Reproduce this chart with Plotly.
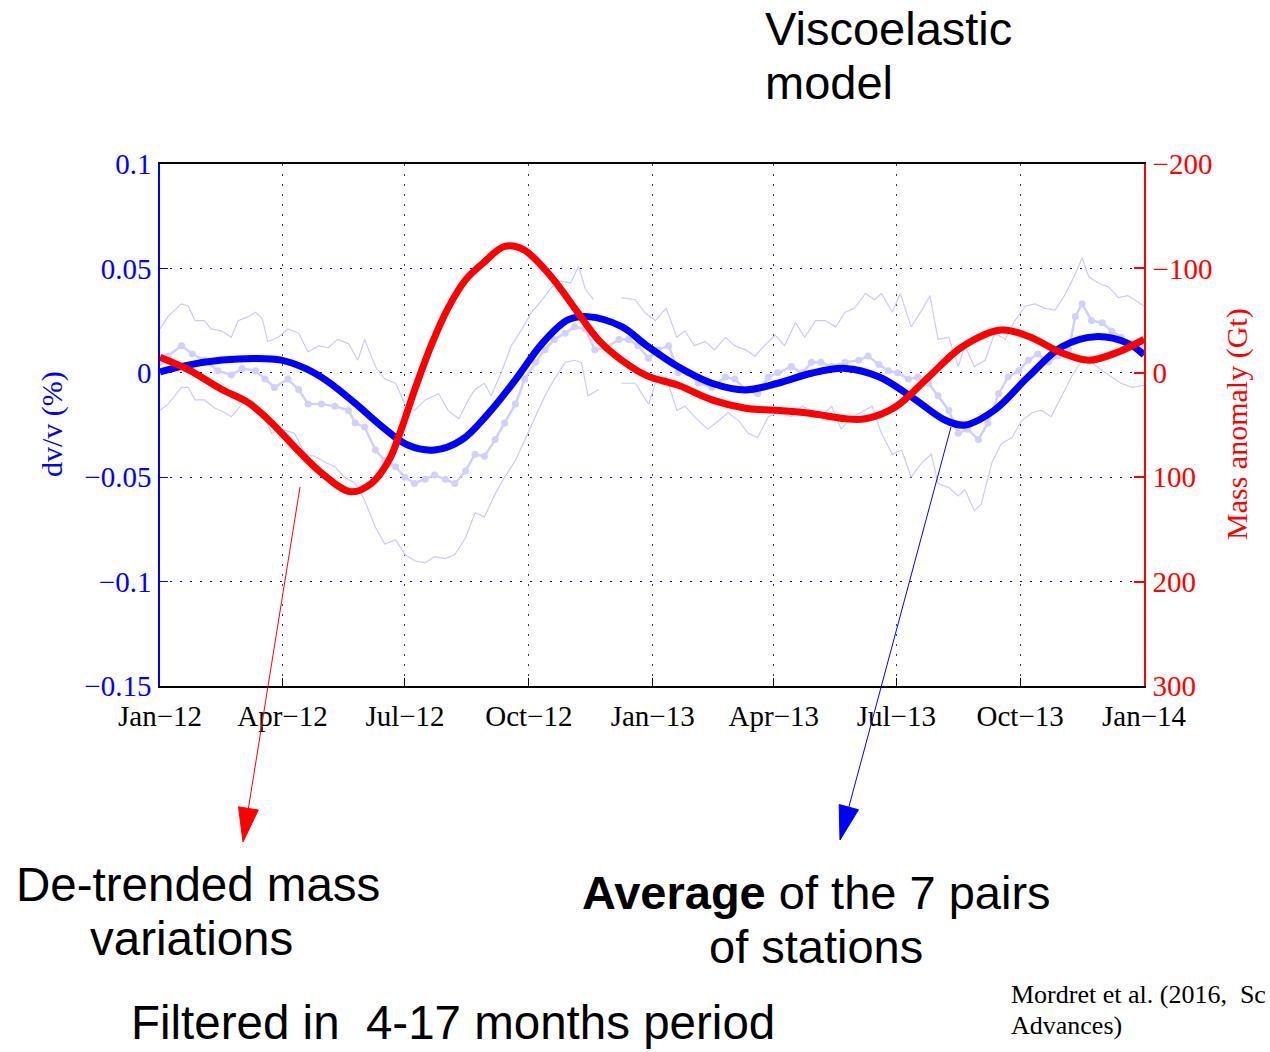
import numpy as np
import pandas as pd
import plotly.graph_objects as go

START = pd.Timestamp("2012-01-01")

# ---- x-axis ticks (quarter starts) ----
tick_dates = ["2012-01-01", "2012-04-01", "2012-07-01", "2012-10-01", "2013-01-01",
              "2013-04-01", "2013-07-01", "2013-10-01", "2014-01-01"]
tick_labels = ["Jan\u221212", "Apr\u221212", "Jul\u221212", "Oct\u221212", "Jan\u221213",
               "Apr\u221213", "Jul\u221213", "Oct\u221213", "Jan\u221214"]

dvv_ticks = [-0.15, -0.1, -0.05, 0, 0.05, 0.1]
dvv_tick_labels = ["\u22120.15", "\u22120.1", "\u22120.05", "0", "0.05", "0.1"]
mass_ticks = [-200, -100, 0, 100, 200, 300]
mass_tick_labels = ["\u2212200", "\u2212100", "0", "100", "200", "300"]

# ---- dv/v: upper bound of the 7 pairs (days since 2012-01-01, %) ----
upper_days = [0, 6, 16, 21, 26, 33, 38, 46, 53, 58, 66, 71, 76, 80, 88, 95, 103, 110, 118, 125,
              132, 140, 147, 152, 160, 167, 175, 182, 189, 197, 207, 214, 222, 229, 234, 241, 246,
              254, 261, 269, 276, 284, 291, 298, 305, 311, 316, 322, 333, 343, 353, 360, 368, 376,
              384, 390, 397, 405, 412, 420, 427, 435, 442, 449, 457, 464, 472, 479, 487, 494, 502,
              509, 516, 524, 531, 536, 544, 550, 558, 566, 572, 578, 586, 593, 598, 605, 613, 620,
              628, 635, 643, 650, 657, 665, 672, 679, 685, 690, 697, 705, 712, 719, 729, 731]
upper_vals = [0.021, 0.027, 0.033, 0.032, 0.025, 0.025, 0.021, 0.020, 0.017, 0.025, 0.027, 0.029,
              0.026, 0.015, 0.017, 0.021, 0.019, 0.010, 0.013, 0.012, 0.016, 0.014, 0.006, 0.016,
              0.003, -0.003, -0.005, -0.015, -0.018, -0.013, -0.010, -0.018, -0.022, -0.013, -0.008,
              -0.005, -0.011, 0.001, 0.013, 0.021, 0.029, 0.035, 0.041, 0.044, 0.043, 0.051, 0.040,
              0.035, None, 0.036, 0.035, 0.029, 0.025, 0.031, 0.017, 0.020, 0.013, 0.015, 0.011,
              0.017, 0.013, 0.011, 0.008, 0.013, 0.018, 0.013, 0.024, 0.017, 0.025, 0.025, 0.022,
              0.029, 0.031, 0.038, 0.035, 0.038, 0.029, 0.038, 0.022, 0.030, 0.037, 0.016, 0.017,
              0.003, 0.013, 0.003, 0.006, 0.019, 0.016, 0.025, 0.032, 0.033, 0.031, 0.030, 0.037,
              0.046, 0.055, 0.046, 0.043, 0.041, 0.036, 0.037, 0.033, 0.032]

# ---- dv/v: lower bound of the 7 pairs ----
lower_days = [0, 6, 16, 21, 26, 33, 41, 48, 53, 61, 68, 76, 83, 90, 100, 108, 115, 123, 130, 137,
              145, 152, 160, 167, 175, 182, 189, 197, 204, 212, 219, 227, 234, 241, 249, 256, 264,
              271, 279, 286, 293, 301, 308, 313, 318, 326, 333, 343, 353, 363, 368, 376, 384, 390,
              397, 407, 415, 422, 430, 437, 444, 452, 459, 469, 477, 484, 491, 499, 506, 514, 521,
              529, 536, 544, 551, 558, 566, 573, 578, 586, 593, 598, 605, 610, 618, 625, 633, 640,
              648, 655, 662, 670, 677, 685, 692, 700, 707, 714, 722, 729, 731]
lower_vals = [-0.018, -0.015, -0.007, -0.007, -0.013, -0.013, -0.017, -0.019, -0.021, -0.015,
              -0.013, -0.019, -0.029, -0.027, -0.029, -0.039, -0.040, -0.043, -0.045, -0.050,
              -0.053, -0.061, -0.074, -0.082, -0.080, -0.087, -0.090, -0.091, -0.088, -0.089,
              -0.087, -0.079, -0.067, -0.069, -0.058, -0.050, -0.042, -0.032, -0.021, -0.011,
              -0.003, 0.005, 0.006, 0.005, -0.011, -0.008, None, -0.005, -0.005, -0.015,
              -0.005, -0.002, -0.018, -0.016, -0.021, -0.027, -0.023, -0.019, -0.023, -0.029,
              -0.031, -0.021, -0.019, -0.021, -0.016, -0.018, -0.021, -0.016, -0.027, -0.021,
              -0.019, -0.016, -0.029, -0.039, -0.037, -0.050, -0.043, -0.039, -0.053, -0.055,
              -0.059, -0.056, -0.066, -0.063, -0.043, -0.034, -0.031, -0.023, -0.019, -0.018,
              -0.021, -0.011, -0.002, 0.006, 0.005, 0.001, -0.002, -0.005, -0.007, -0.006, -0.006]

# ---- dv/v: raw average of the 7 pairs ----
raw_days = [0, 6, 16, 24, 33, 43, 53, 61, 71, 78, 85, 95, 103, 110, 120, 130, 140, 145, 152, 160,
            167, 175, 182, 189, 197, 204, 212, 219, 227, 234, 241, 249, 256, 264, 271, 279, 286,
            293, 301, 308, 316, 323, 331, 341, 348, 355, 363, 370, 378, 385, 392, 400, 410, 420,
            427, 435, 444, 452, 459, 469, 477, 484, 491, 499, 509, 519, 526, 534, 541, 548, 556,
            563, 571, 578, 586, 593, 600, 608, 615, 623, 630, 638, 645, 652, 660, 667, 675, 680,
            685, 692, 700, 707, 714, 722, 729]
raw_vals = [0.005, 0.008, 0.013, 0.009, 0.006, 0.001, -0.001, 0.002, 0.001, -0.003,
            -0.007, -0.003, -0.008, -0.015, -0.015, -0.016, -0.018, -0.024, -0.026, -0.037,
            -0.042, -0.045, -0.050, -0.053, -0.051, -0.049, -0.051, -0.053, -0.047, -0.039,
            -0.040, -0.032, -0.024, -0.015, -0.003, 0.005, 0.011, 0.016, 0.019, 0.022,
            0.021, 0.011, 0.012, 0.016, 0.016, 0.013, 0.007, 0.011, 0.013, 0.000,
            0.000, -0.005, -0.007, -0.002, -0.003, -0.008, -0.010, -0.002, 0.000, 0.003,
            0.000, 0.005, 0.005, 0.003, 0.005, 0.006, 0.008, 0.004, 0.001, 0.000,
            -0.003, -0.002, -0.005, -0.011, -0.018, -0.029, -0.027, -0.032, -0.024, -0.010,
            -0.002, 0.001, 0.006, 0.009, 0.005, 0.008, 0.011, 0.027, 0.033, 0.025,
            0.024, 0.020, 0.017, 0.014, 0.011]

# ---- dv/v filtered in the 4-17 month band ----
dvv_days = [0, 21, 46, 71, 90, 108, 125, 145, 165, 184, 204, 224, 244, 264, 284, 303, 318, 343,
            361, 385, 410, 435, 459, 484, 509, 534, 558, 583, 598, 620, 645, 670, 695, 719, 731]
dvv_vals = [0.0005, 0.0037, 0.0061, 0.0069, 0.0061, 0.0021, -0.0043, -0.0146, -0.0258, -0.0346,
            -0.0370, -0.0322, -0.0194, -0.0034, 0.0141, 0.0253, 0.0269, 0.0221, 0.0133, 0.0029,
            -0.0050, -0.0082, -0.0050, -0.0002, 0.0021, -0.0019, -0.0114, -0.0226, -0.0250,
            -0.0178, -0.0019, 0.0125, 0.0173, 0.0141, 0.0085]

# ---- de-trended mass anomaly (Gt) ----
mass_days = [0, 21, 46, 66, 83, 100, 120, 142, 157, 170, 179, 189, 202, 214, 227, 240, 256, 270,
             290, 308, 326, 343, 362, 385, 410, 435, 459, 484, 509, 524, 546, 571, 596, 625, 645,
             670, 690, 712, 731]
mass_vals = [-15, -3, 16, 29, 48, 71, 96, 114, 106, 84, 55, 17, -28, -62, -89, -105, -121, -118,
             -93, -62, -31, -12, 3, 12, 26, 34, 36, 39, 44, 44, 33, 4, -25, -41, -35, -19, -12,
             -20, -32]


def to_dates(days):
    return START + pd.to_timedelta(np.asarray(days, dtype=float), unit="D")


BLUE = "rgb(0,0,255)"
RED = "rgb(255,0,0)"
PALE = "rgb(202,202,252)"
PALE_DOT = "rgb(208,208,250)"
SERIF = "Liberation Serif"
SANS = "Liberation Sans"

fig = go.Figure()

fig.add_trace(go.Scatter(x=to_dates(upper_days), y=upper_vals, mode="lines",
                         line=dict(color=PALE, width=1.2), connectgaps=False,
                         hoverinfo="skip", showlegend=False))
fig.add_trace(go.Scatter(x=to_dates(lower_days), y=lower_vals, mode="lines",
                         line=dict(color=PALE, width=1.2), connectgaps=False,
                         hoverinfo="skip", showlegend=False))
fig.add_trace(go.Scatter(x=to_dates(raw_days), y=raw_vals, mode="lines+markers",
                         line=dict(color=PALE_DOT, width=2.5),
                         marker=dict(color=PALE_DOT, size=7, line=dict(width=0)),
                         hoverinfo="skip", showlegend=False))
fig.add_trace(go.Scatter(x=to_dates(dvv_days), y=dvv_vals, mode="lines",
                         line=dict(color=BLUE, width=7, shape="spline", smoothing=1.0),
                         showlegend=False))
fig.add_trace(go.Scatter(x=to_dates(mass_days), y=mass_vals, mode="lines", yaxis="y2",
                         line=dict(color=RED, width=7, shape="spline", smoothing=1.0),
                         showlegend=False))

# plot area in page pixels
L, T, W, H = 160, 164, 984, 522


def pxx(x):
    return (x - L) / W


def pxy(y):
    return (T + H - y) / H


annotations = []


def add_text(text, x, y, size, xanchor="center", family=SANS, color="black", angle=0):
    annotations.append(dict(text=text, x=pxx(x), y=pxy(y), xref="paper", yref="paper",
                            xanchor=xanchor, yanchor="middle", showarrow=False,
                            textangle=angle, font=dict(family=family, size=size, color=color)))


add_text("Viscoelastic", 763, 28, 47, xanchor="left")
add_text("model", 763, 82, 47, xanchor="left")
add_text("De-trended mass", 198, 885, 47.5)
add_text("variations", 191, 939, 47.5)
add_text("<b>Average</b> of the 7 pairs", 816, 892, 47)
add_text("of stations", 816, 946, 47)
add_text("Filtered in\u00a0 4-17 months period", 453, 1022, 47.5)
add_text("Mordret et al. (2016,\u00a0 Sc", 1009, 995, 26, xanchor="left", family=SERIF)
add_text("Advances)", 1009, 1025, 26, xanchor="left", family=SERIF)
add_text("dv/v (%)", 52, 424, 30, family=SERIF, color=BLUE, angle=-90)
add_text("Mass anomaly (Gt)", 1237, 424, 30, family=SERIF, color=RED, angle=-90)

# pointer arrows: thin shaft + filled triangular head
shapes = []


def add_arrow(tail, tip, color, head_len=34, head_half=10):
    tail = np.array(tail, float)
    tip = np.array(tip, float)
    u = (tip - tail) / np.linalg.norm(tip - tail)
    n = np.array([-u[1], u[0]])
    base = tip - head_len * u
    c1 = base + head_half * n
    c2 = base - head_half * n
    shapes.append(dict(type="line", xref="paper", yref="paper",
                       x0=pxx(tail[0]), y0=pxy(tail[1]), x1=pxx(base[0]), y1=pxy(base[1]),
                       line=dict(color=color, width=1)))
    path = "M {:.5f} {:.5f} L {:.5f} {:.5f} L {:.5f} {:.5f} Z".format(
        pxx(tip[0]), pxy(tip[1]), pxx(c1[0]), pxy(c1[1]), pxx(c2[0]), pxy(c2[1]))
    shapes.append(dict(type="path", xref="paper", yref="paper", path=path,
                       fillcolor=color, line=dict(color=color, width=1)))


add_arrow((300, 487), (243, 842), RED)
add_arrow((951, 427), (840, 840), BLUE)

fig.update_layout(
    width=1270, height=1052,
    margin=dict(l=L, r=1270 - L - W, t=T, b=1052 - T - H, pad=0),
    paper_bgcolor="white", plot_bgcolor="white",
    showlegend=False,
    xaxis=dict(type="date", range=["2012-01-01", "2014-01-01"],
               tickmode="array", tickvals=tick_dates, ticktext=tick_labels,
               ticks="inside", ticklen=8, tickwidth=1, tickcolor="black",
               showline=True, linecolor="black", linewidth=1.5, mirror=True,
               showgrid=True, gridcolor="rgb(60,60,60)", gridwidth=1, griddash="1.5px,8.5px",
               zeroline=False, ticklabelstandoff=3,
               tickfont=dict(family=SERIF, size=29, color="black")),
    yaxis=dict(range=[-0.15, 0.1], tickmode="array", tickvals=dvv_ticks, ticktext=dvv_tick_labels,
               ticks="inside", ticklen=8, tickwidth=1, tickcolor=BLUE,
               showline=True, linecolor=BLUE, linewidth=1.5,
               showgrid=True, gridcolor=BLUE, gridwidth=1, griddash="2px,8px",
               zeroline=False, ticklabelstandoff=1,
               tickfont=dict(family=SERIF, size=29, color=BLUE)),
    yaxis2=dict(range=[300, -200], overlaying="y", side="right",
                tickmode="array", tickvals=mass_ticks, ticktext=mass_tick_labels,
                ticks="inside", ticklen=10, tickwidth=1.5, tickcolor=RED,
                showline=True, linecolor=RED, linewidth=1.5,
                showgrid=False, zeroline=False, ticklabelstandoff=1,
                tickfont=dict(family=SERIF, size=29, color=RED)),
    annotations=annotations,
    shapes=shapes,
)

fig.write_html("out.html")
